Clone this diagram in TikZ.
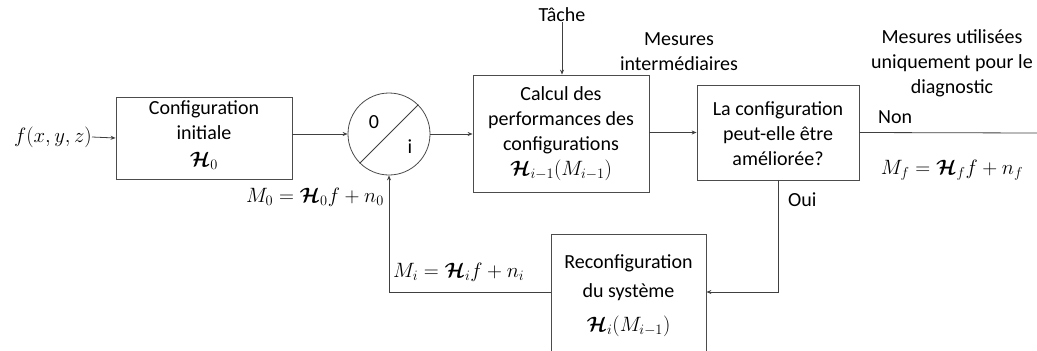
\documentclass[tikz,border=0pt]{standalone}
\usepackage{amsmath,bm}
\usepackage{fontspec}
\setmainfont{Carlito}
\usetikzlibrary{arrows.meta}
\newcommand{\Hb}{\bm{\mathcal{H}}}
\begin{document}
\begin{tikzpicture}[x=1pt,y=-1pt,
  txt/.style={font=\fontsize{20}{25}\selectfont, align=center, inner sep=0pt},
  mth/.style={font=\fontsize{20.5}{25}\selectfont, align=center, inner sep=0pt},
  blk/.style={draw=black!70, line width=0.8pt, inner sep=0pt},
  ln/.style={draw=black!75, line width=0.8pt},
  arr/.style={ln, -{Stealth[length=5pt,width=4pt]}}]
\useasboundingbox (0,0) rectangle (1037,351);
\fill[white] (0,0) rectangle (1037,351);
% nodes
\node[mth, anchor=east] (fin) at (92,137) {$f(x,y,z)$};
\node[blk, minimum width=176pt, minimum height=82pt] (b1) at (204,138) {};
\node[txt] (t1) at (204,135) {Configuration\\initiale\\[2pt]$\Hb_0$};
\node[blk, circle, minimum size=82pt] (c) at (389,134) {};
\draw[ln] (c.225) -- (c.45);
\node[txt] (z0) at (374,122) {0};
\node[txt] (zi) at (410,147) {i};
\node[blk, minimum width=176pt, minimum height=117pt] (b3) at (561,133.5) {};
\node[txt] (t3) at (561,133.5) {Calcul des\\performances des\\configurations\\$\Hb_{i-1}(M_{i-1})$};
\node[txt] (tache) at (562,15) {Tâche};
\node[txt] (mi) at (679,52) {Mesures\\intermédiaires};
\node[blk, minimum width=162pt, minimum height=95pt] (b4) at (778,132.5) {};
\node[txt] (t4) at (778,134) {La configuration\\peut-elle être\\améliorée?};
\coordinate (out) at (1037,133);
\node[txt] (mu) at (952,63) {Mesures utilisées\\uniquement pour le\\diagnostic};
\node[txt, anchor=west] (non) at (878,117) {Non};
\node[mth] (mf) at (952,170) {$M_f=\Hb_f f+n_f$};
\node[txt, anchor=west] (oui) at (788,200) {Oui};
\node[blk, minimum width=155pt, minimum height=118pt] (b5) at (628.5,293) {};
\node[txt] (t5) at (628.5,296) {Reconfiguration\\[4pt]du système\\[9pt]$\Hb_i(M_{i-1})$};
\node[mth, anchor=east] (m0) at (384,197) {$M_0=\Hb_0 f+n_0$};
\node[mth, anchor=west] (mil) at (393,272) {$M_i=\Hb_i f+n_i$};
\coordinate (corner1) at (778,292);
\coordinate (corner2) at (389,292);
% connectors
\draw[arr] (fin.east) -- (b1.west);
\draw[arr] (b1.east |- c.west) -- (c.west);
\draw[arr] (c.east) -- (b3.west |- c.east);
\draw[arr] (tache.south) -- (b3.north -| tache.south);
\draw[arr] (b3.east |- b4.west) -- (b4.west);
\draw[ln] (b4.east) -- (out);
\draw[arr] (b4.south) -- (corner1) -- (b5.east |- corner1);
\draw[arr] (b5.west |- corner2) -- (corner2) -- (c.south);
\end{tikzpicture}
\end{document}
